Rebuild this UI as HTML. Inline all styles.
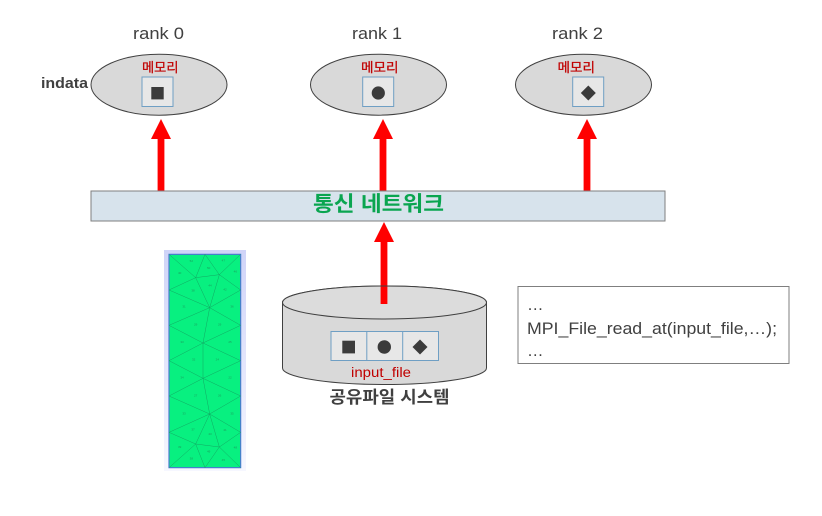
<!DOCTYPE html>
<html>
<head>
<meta charset="utf-8">
<style>
html,body{margin:0;padding:0;background:#fff;width:822px;height:516px;overflow:hidden}
svg{display:block}
text{font-family:"Liberation Sans","Noto Sans CJK KR",sans-serif}
</style>
</head>
<body>
<svg width="822" height="516" viewBox="0 0 822 516" xmlns="http://www.w3.org/2000/svg">
<defs>
<linearGradient id="bg" x1="0" y1="0" x2="0" y2="1">
<stop offset="0" stop-color="#d0d4f8"/><stop offset="1" stop-color="#f6f7ff"/>
</linearGradient>
</defs>

<!-- rank labels -->
<g fill="#404040" font-size="17">
<text x="133" y="39" textLength="51" lengthAdjust="spacingAndGlyphs">rank 0</text>
<text x="352" y="39" textLength="50" lengthAdjust="spacingAndGlyphs">rank 1</text>
<text x="552" y="39" textLength="51" lengthAdjust="spacingAndGlyphs">rank 2</text>
</g>
<text x="41" y="88" font-size="14.5" font-weight="bold" fill="#404040" textLength="47" lengthAdjust="spacingAndGlyphs">indata</text>

<!-- ellipses -->
<g fill="#d9d9d9" stroke="#404040" stroke-width="1">
<ellipse cx="159" cy="84.7" rx="68" ry="30.5"/>
<ellipse cx="378.5" cy="84.7" rx="68" ry="30.5"/>
<ellipse cx="583.5" cy="84.7" rx="68" ry="30.5"/>
</g>
<g fill="#c00000" font-size="13" stroke="#c00000" stroke-width="0.25">
<text x="142" y="72" textLength="36.5" lengthAdjust="spacingAndGlyphs">메모리</text>
<text x="361" y="72" textLength="37.5" lengthAdjust="spacingAndGlyphs">메모리</text>
<text x="557.500" y="72" textLength="37.5" lengthAdjust="spacingAndGlyphs">메모리</text>
</g>
<g fill="#e7e7e7" stroke="#6f9fc4" stroke-width="1">
<rect x="142" y="77" width="31" height="29.500"/>
<rect x="362.700" y="77" width="31" height="29.500"/>
<rect x="572.700" y="77" width="31" height="29.500"/>
</g>
<g fill="#3b3b3b">
<rect x="151.300" y="87" width="12.400" height="12.400"/>
<circle cx="378.300" cy="93" r="6.600"/>
<polygon points="588.300,85.500 595.800,93 588.300,100.500 580.800,93"/>
</g>

<!-- network bar -->
<rect x="91" y="191" width="574" height="30" fill="#d7e3ec" stroke="#7f7f7f" stroke-width="1"/>
<text x="313" y="211" font-size="21" font-weight="bold" fill="#0aa550" textLength="131" lengthAdjust="spacingAndGlyphs">통신 네트워크</text>

<!-- arrows -->
<g fill="#ff0000">
<polygon points="161,119 171,139 164.400,139 164.400,190.500 157.600,190.500 157.600,139 151,139"/>
<polygon points="383,119 393,139 386.400,139 386.400,190.500 379.600,190.500 379.600,139 373,139"/>
<polygon points="587,119 597,139 590.400,139 590.400,190.500 583.600,190.500 583.600,139 577,139"/>
<polygon points="384,222 394,242 387.400,242 387.400,304 380.600,304 380.600,242 374,242"/>
</g>

<!-- cylinder -->
<path d="M282.500,302.500 V368 A102,16.500 0 0 0 486.500,368 V302.500 A102,16.500 0 0 0 282.500,302.500 Z" fill="#d9d9d9" stroke="#404040" stroke-width="1"/>
<path d="M282.500,302.500 A102,16.500 0 0 1 486.500,302.500" fill="#dcdcdc" stroke="#404040" stroke-width="1"/>
<path d="M282.500,302.500 A102,16.500 0 0 0 486.500,302.500" fill="#dcdcdc" stroke="#404040" stroke-width="1"/>
<polygon points="380.600,286.500 387.400,286.500 387.400,304 380.600,304" fill="#ff0000"/>
<rect x="331" y="331.500" width="107.500" height="29" fill="#e7e7e7" stroke="#6f9fc4" stroke-width="1"/>
<path d="M366.800,331.500 V360.500 M402.700,331.500 V360.500" stroke="#6f9fc4" stroke-width="1" fill="none"/>
<g fill="#3b3b3b">
<rect x="342.300" y="340.700" width="12.700" height="12.700"/>
<circle cx="384.300" cy="347" r="6.700"/>
<polygon points="420,339.500 427.500,347 420,354.500 412.500,347"/>
</g>
<text x="351" y="377" font-size="13.500" fill="#c00000" textLength="60" lengthAdjust="spacingAndGlyphs">input_file</text>
<text x="329.500" y="403" font-size="17" font-weight="bold" fill="#404040" textLength="120" lengthAdjust="spacingAndGlyphs">공유파일 시스템</text>

<!-- code box -->
<rect x="518" y="286.500" width="271" height="77" fill="#fff" stroke="#7f7f7f" stroke-width="1"/>
<g fill="#404040" font-size="16.500">
<text x="527" y="310">…</text>
<text x="527" y="334" textLength="250" lengthAdjust="spacingAndGlyphs">MPI_File_read_at(input_file,…);</text>
<text x="527" y="356">…</text>
</g>

<!-- mesh -->
<rect x="164" y="250" width="82" height="221" fill="url(#bg)"/>
<g transform="translate(150 240) scale(0.33333)">
<rect x="57" y="43" width="215" height="640" fill="#08f080" stroke="#4a78d0" stroke-width="3.500"/>
<path fill="none" stroke="#12a862" stroke-width="1.500" d="
M57,43 L137,113 M165,43 L137,113 M165,43 L208,104 M272,43 L208,104 M137,113 L208,104
M57,150 L137,113 M272,150 L208,104 M137,113 L179,203 M208,104 L179,203
M57,150 L179,203 M272,150 L179,203 M57,256 L179,203 M272,256 L179,203 M179,203 L159,309
M57,256 L159,309 M272,256 L159,309 M57,362 L159,309 M272,362 L159,309 M159,309 L159,415
M57,362 L159,415 M272,362 L159,415 M57,468 L159,415 M272,468 L159,415 M159,415 L179,522
M57,468 L179,522 M272,468 L179,522 M57,577 L179,522 M272,577 L179,522
M179,522 L137,612 M179,522 L208,621 M57,577 L137,612 M272,577 L208,621 M137,612 L208,621
M137,612 L57,683 M137,612 L165,683 M208,621 L165,683 M208,621 L272,683"/>
<g fill="#1c9c5c" font-size="9" text-anchor="middle">
<text x="124" y="66">52</text><text x="176" y="87">50</text><text x="220" y="64">47</text><text x="89" y="102">40</text><text x="256" y="98">46</text>
<text x="129" y="155">38</text><text x="180" y="140">44</text><text x="225" y="152">42</text><text x="102" y="203">31</text><text x="246" y="203">36</text>
<text x="137" y="257">29</text><text x="209" y="257">29</text><text x="96" y="309">33</text><text x="240" y="309">25</text>
<text x="131" y="362">32</text><text x="202" y="362">24</text><text x="96" y="416">34</text><text x="240" y="416">22</text>
<text x="137" y="470">27</text><text x="209" y="470">26</text><text x="102" y="523">33</text><text x="246" y="523">35</text>
<text x="129" y="571">37</text><text x="180" y="585">43</text><text x="225" y="573">41</text><text x="89" y="624">39</text><text x="256" y="626">48</text>
<text x="124" y="659">38</text><text x="176" y="638">49</text><text x="220" y="663">45</text>
</g>
</g>
</svg>
</body>
</html>
